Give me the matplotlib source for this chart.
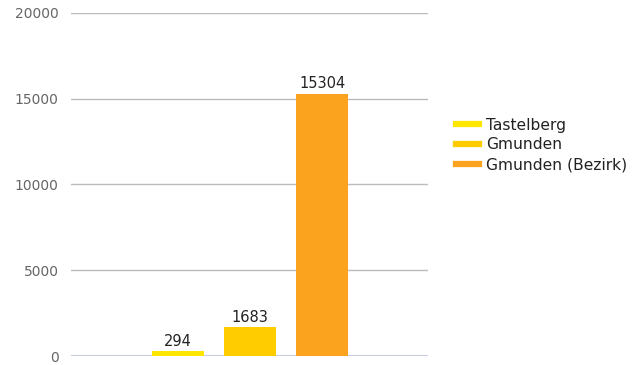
import matplotlib
matplotlib.use('Agg')
import matplotlib.pyplot as plt
from matplotlib.lines import Line2D

names = ['Tastelberg', 'Gmunden', 'Gmunden (Bezirk)']
values = [294, 1683, 15304]
colors = ['#ffe600', '#ffcc00', '#fba21f']
yticks = [0, 5000, 10000, 15000, 20000]

fig = plt.figure(figsize=(6.44, 3.65), dpi=100)
ax = fig.add_axes([71 / 644, 1 - 356 / 365, 357 / 644, 343 / 365])

x = list(range(len(values)))
bars = ax.bar(x, values, width=0.72, color=colors, zorder=3)
for xi, v in zip(x, values):
    ax.text(xi, v + 120, str(v), ha='center', va='bottom', fontsize=10.5, color='#222222', zorder=4)

ax.set_xlim(-1.486, 3.47)
ax.set_ylim(0, 20000)
ax.set_yticks(yticks)
ax.set_yticklabels([str(t) for t in yticks])
ax.set_xticks([])
ax.tick_params(axis='y', length=0, pad=9, labelsize=10, labelcolor='#666666')
ax.yaxis.grid(True, color='#bbbbbb', linewidth=1, zorder=0)
for s in ax.spines.values():
    s.set_visible(False)
ax.axhline(0, color='#c8cce0', linewidth=1.5, zorder=2)

handles = [Line2D([0], [0], color=c, linewidth=4.5) for c in colors]
leg = fig.legend(handles, names, loc='center left', bbox_to_anchor=(456 / 644, 1 - 145 / 365),
                 frameon=False, fontsize=11.2, handlelength=1.5, handletextpad=0.45,
                 labelspacing=0.3, borderpad=0, borderaxespad=0)
for t in leg.get_texts():
    t.set_color('#222222')

fig.savefig('out.png', dpi=100)
